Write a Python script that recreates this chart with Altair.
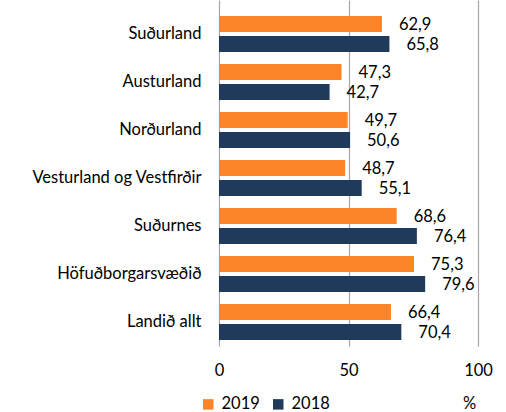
import altair as alt
import pandas as pd

categories = ["Suðurland", "Austurland", "Norðurland", "Vesturland og Vestfirðir",
              "Suðurnes", "Höfuðborgarsvæðið", "Landið allt"]
years = ["2019", "2018"]
values_2019 = [62.9, 47.3, 49.7, 48.7, 68.6, 75.3, 66.4]
values_2018 = [65.8, 42.7, 50.6, 55.1, 76.4, 79.6, 70.4]
x_ticks = [0, 50, 100]
colors = ["#FD8429", "#203A5B"]

rows = []
for c, v19, v18 in zip(categories, values_2019, values_2018):
    for y, v in (("2019", v19), ("2018", v18)):
        rows.append({"cat": c, "year": y, "value": v,
                     "label": f"{v:.1f}".replace(".", ",")})
df = pd.DataFrame(rows)

FONT = "Lato"
FS = 16.5

y_enc = alt.Y("cat:N", sort=categories,
              scale=alt.Scale(paddingInner=0.25, paddingOuter=0.229, align=0.727),
              axis=alt.Axis(title=None, domain=False, ticks=False, labelPadding=18,
                            labelFontSize=FS, labelColor="#000000", labelFont=FONT,
                            labelLimit=300))
yoff = alt.YOffset("year:N", sort=years, scale=alt.Scale(paddingInner=0.2, paddingOuter=0))
x_enc = alt.X("value:Q", scale=alt.Scale(domain=[0, 100], nice=False),
              axis=alt.Axis(values=x_ticks, title="%", grid=True, gridColor="#A6A6A6",
                            gridWidth=1.2, domain=False, ticks=False, labelPadding=16,
                            labelFlush=False,
                            labelFontSize=FS, labelColor="#000000", labelFont=FONT,
                            titleFont=FONT, titleFontSize=FS, titleFontWeight="normal",
                            titleColor="#000000", titleX=250, titleY=57.5,
                            titleBaseline="middle", titleAlign="center"))

bars = alt.Chart(df).mark_bar().encode(
    x=x_enc, y=y_enc, yOffset=yoff,
    color=alt.Color("year:N", sort=years,
                    scale=alt.Scale(domain=years, range=colors),
                    legend=alt.Legend(title=None, orient="none", legendX=-19, legendY=396,
                                      direction="horizontal", symbolType="square",
                                      symbolSize=110, symbolStrokeWidth=0,
                                      labelFontSize=FS, labelFont=FONT,
                                      labelColor="#000000", labelOffset=5,
                                      columnPadding=10)),
)

text = alt.Chart(df).mark_text(align="left", baseline="middle", dx=17, dy=1,
                               fontSize=FS, font=FONT, color="#000000").encode(
    x="value:Q", y=alt.Y("cat:N", sort=categories), yOffset=alt.YOffset("year:N", sort=years),
    text="label:N",
)

chart = alt.layer(bars, text).properties(
    width=259, height=346,
    padding={"left": 219, "top": 0, "right": 28, "bottom": 66},
    autosize=alt.AutoSizeParams(type="none"),
).configure_view(stroke=None)

chart.save("out.html", embed_options={"renderer": "svg", "actions": False})
